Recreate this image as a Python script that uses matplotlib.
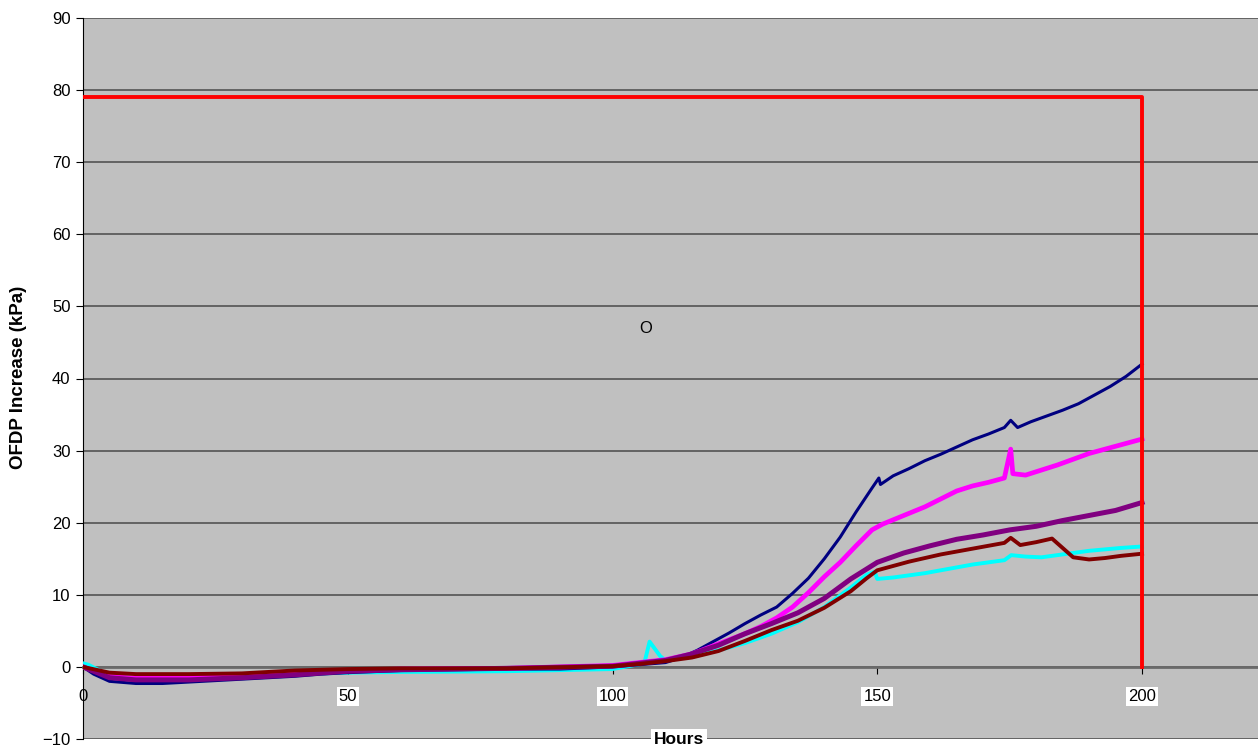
import matplotlib.pyplot as plt

plt.rcParams['font.family'] = ['Liberation Sans', 'DejaVu Sans']

# 数据
navy_h = [0, 2, 5, 10, 15, 20, 25, 30, 35, 40, 45, 50, 60, 70, 80, 90, 100, 105, 110, 113, 116,
          119, 122, 125, 128, 131, 134, 137, 140, 143, 146, 149, 150.3, 150.6, 153, 156, 159,
          162, 165, 168, 171, 174, 175.2, 176.5, 179, 182, 185, 188, 191, 194, 197, 200]
navy_v = [0, -1, -2, -2.3, -2.3, -2.1, -1.9, -1.7, -1.5, -1.3, -1.0, -0.8, -0.5, -0.4, -0.3, -0.3,
          0, 0.3, 0.6, 1.3, 2.3, 3.5, 4.7, 6.0, 7.2, 8.3, 10.2, 12.3, 15, 18, 21.5, 24.8, 26.2,
          25.3, 26.5, 27.5, 28.6, 29.5, 30.5, 31.5, 32.3, 33.2, 34.2, 33.2, 34, 34.8, 35.6,
          36.5, 37.7, 38.9, 40.3, 42]

magenta_h = [0, 5, 10, 20, 30, 40, 50, 60, 80, 100, 105, 110, 115, 120, 125, 128, 131, 134, 137,
             140, 143, 146, 149, 151, 153, 156, 159, 162, 165, 168, 171, 174, 175.2, 175.6, 178,
             181, 184, 187, 190, 193, 196, 200]
magenta_v = [0, -1.3, -1.6, -1.5, -1.2, -0.9, -0.5, -0.3, -0.2, 0.2, 0.6, 1.0, 1.8, 3.2, 4.6, 5.6,
             6.8, 8.3, 10.3, 12.5, 14.5, 16.8, 19.0, 19.8, 20.4, 21.3, 22.2, 23.3, 24.4, 25.1,
             25.6, 26.2, 30.2, 26.8, 26.6, 27.3, 28.0, 28.8, 29.6, 30.2, 30.8, 31.6]

purple_h = [0, 5, 10, 20, 30, 40, 50, 60, 80, 100, 105, 110, 115, 120, 125, 130, 135, 140, 145,
            150, 155, 160, 165, 170, 175, 180, 185, 190, 195, 200]
purple_v = [0, -1.5, -1.8, -1.8, -1.5, -1.1, -0.6, -0.4, -0.2, 0.1, 0.5, 0.9, 1.8, 3.0, 4.6, 6.0,
            7.5, 9.5, 12.2, 14.5, 15.8, 16.8, 17.7, 18.3, 19.0, 19.5, 20.3, 21.0, 21.7, 22.8]

cyan_h = [0, 1, 5, 10, 20, 30, 40, 50, 60, 80, 100, 106, 107, 109, 110, 115, 120, 125, 130, 135,
          140, 145, 148, 149.5, 150, 153, 156, 159, 162, 165, 168, 171, 174, 175.3, 178, 181,
          184, 187, 190, 193, 196, 200]
cyan_v = [0.5, 0.3, -1.2, -1.6, -1.5, -1.3, -1.0, -0.8, -0.7, -0.6, -0.3, 0.5, 3.5, 1.5, 0.9, 1.4,
          2.3, 3.3, 4.6, 6.2, 8.3, 11.0, 12.8, 13.2, 12.2, 12.4, 12.7, 13.0, 13.4, 13.8, 14.2,
          14.5, 14.8, 15.5, 15.3, 15.2, 15.5, 15.8, 16.1, 16.3, 16.5, 16.7]

maroon_h = [0, 5, 10, 20, 30, 40, 50, 60, 80, 100, 105, 110, 115, 120, 125,
            130, 135, 140, 145, 148, 150, 153, 156, 159, 162, 165, 168, 171, 174, 175.2, 177,
            180, 183, 185, 187, 190, 193, 196, 200]
maroon_v = [0, -0.8, -1.0, -1.0, -0.9, -0.5, -0.3, -0.2, -0.2, 0.1, 0.4, 0.8,
            1.3, 2.2, 3.6, 5.1, 6.4, 8.2, 10.5, 12.3, 13.4, 14.0, 14.6, 15.1, 15.6, 16.0, 16.4,
            16.8, 17.2, 17.9, 16.9, 17.3, 17.8, 16.5, 15.2, 14.9, 15.1, 15.4, 15.7]

limit_h = [0, 200, 200]
limit_v = [79, 79, 0]

xticks = [0, 50, 100, 150, 200]
yticks = list(range(-10, 91, 10))

########################################################
fig = plt.figure(figsize=(12.58, 7.47), dpi=100)
ax = fig.add_axes([83 / 1258, 8 / 747, 1 - 83 / 1258, 721 / 747])
ax.set_facecolor('#C0C0C0')

for y in yticks:
    ax.axhline(y, color='#4a4a4a', lw=1.1, zorder=1)

ax.plot(cyan_h, cyan_v, color='#00FFFF', lw=2.8, zorder=3)
ax.plot(navy_h, navy_v, color='#000080', lw=2.2, zorder=3)
ax.plot(magenta_h, magenta_v, color='#FF00FF', lw=3.4, zorder=3)
ax.plot(purple_h, purple_v, color='#800080', lw=3.6, zorder=3)
ax.plot(maroon_h, maroon_v, color='#800000', lw=2.8, zorder=3)
ax.plot(limit_h, limit_v, color='#FF0000', lw=2.8, zorder=4)

ax.text(106.3, 47, 'O', fontsize=12, ha='center', va='center')

ax.set_xlim(0, 221.9)
ax.set_ylim(-10, 90)

# 坐标轴
ax.spines['right'].set_visible(False)
ax.spines['top'].set_visible(False)
ax.spines['left'].set_color('black')
ax.spines['bottom'].set_position(('data', 0))
ax.spines['bottom'].set_color('#6a6a6a')
ax.spines['bottom'].set_linewidth(2)
ax.spines['bottom'].set_zorder(2)

ax.set_yticks(yticks)
ax.set_xticks(xticks)
ax.tick_params(axis='y', direction='out', length=5, labelsize=12, pad=4)
ax.tick_params(axis='x', direction='out', length=5, labelsize=12, pad=11, color='black')
for i, lab in enumerate(ax.get_xticklabels()):
    if i > 0:
        lab.set_bbox(dict(facecolor='white', edgecolor='none', pad=1.5))

ax.text(112.5, -10, 'Hours', fontsize=12.5, fontweight='bold', ha='center', va='center',
        bbox=dict(facecolor='white', edgecolor='none', pad=2), zorder=5)
fig.text(19 / 1258, 1 - 377 / 747, 'OFDP Increase (kPa)', fontsize=13.5, fontweight='bold',
         rotation=90, ha='center', va='center')

plt.savefig('out.png', dpi=100)
